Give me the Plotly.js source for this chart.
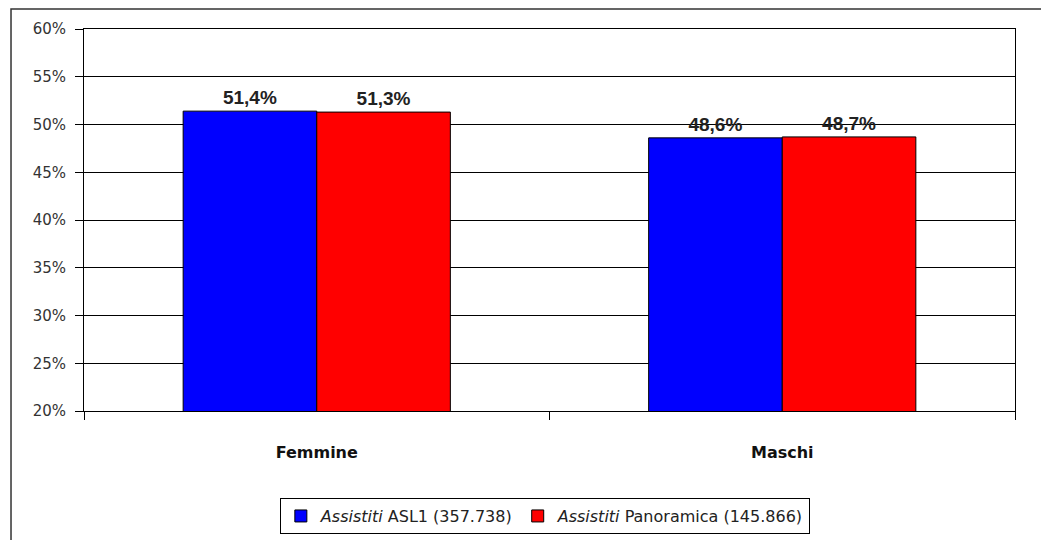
<!DOCTYPE html>
<html>
<head>
<meta charset="utf-8">
<script src="https://cdn.plot.ly/plotly-3.0.1.min.js"></script>
<style>html,body{margin:0;padding:0;background:#fff;}#chart{width:1041px;height:540px;}</style>
</head>
<body>
<div id="chart"></div>
<script>
var categories = ['Femmine', 'Maschi'];
var seriesNames = ['<i>Assistiti</i> ASL1 (357.738)', '<i>Assistiti</i> Panoramica (145.866)'];
var asl1Values = [51.4, 48.6];
var panoramicaValues = [51.3, 48.7];
var yTickVals = [20, 25, 30, 35, 40, 45, 50, 55, 60];
var yTickText = ['20%', '25%', '30%', '35%', '40%', '45%', '50%', '55%', '60%'];

var labelFont = {family: 'Liberation Sans Narrow, Arial Narrow, Liberation Sans, Arial, sans-serif', size: 19, color: '#222'};

function fmt(v) { return '<b>' + v.toFixed(1).replace('.', ',') + '%</b>'; }

var traces = [
  {type: 'bar', name: seriesNames[0], x: categories, y: asl1Values,
   marker: {color: '#0000ff', line: {color: '#000', width: 1}},
   text: asl1Values.map(fmt),
   textposition: 'outside', textfont: labelFont, cliponaxis: false, hoverinfo: 'none'},
  {type: 'bar', name: seriesNames[1], x: categories, y: panoramicaValues,
   marker: {color: '#ff0000', line: {color: '#000', width: 1}},
   text: panoramicaValues.map(fmt),
   textposition: 'outside', textfont: labelFont, cliponaxis: false, hoverinfo: 'none'}
];

var layout = {
  width: 1041, height: 540,
  margin: {l: 84, r: 26, t: 29, b: 129, autoexpand: false},
  paper_bgcolor: '#fff', plot_bgcolor: '#fff',
  barmode: 'group', bargap: 0.426, bargroupgap: 0,
  showlegend: true,
  legend: {orientation: 'h', x: 0.495, xanchor: 'center', y: -0.275, yanchor: 'middle',
           bordercolor: '#000', borderwidth: 1, bgcolor: '#fff',
           font: {family: 'DejaVu Sans, sans-serif', size: 16, color: '#222'},
           itemwidth: 30, traceorder: 'normal'},
  xaxis: {type: 'category', showline: true, linecolor: '#000', linewidth: 1, mirror: true,
          ticks: 'outside', tickson: 'boundaries', ticklen: 8, tickcolor: '#000',
          showgrid: false, ticklabelstandoff: 27, automargin: false,
          tickfont: {family: 'DejaVu Sans, sans-serif', size: 16, color: '#111', weight: 'bold'}},
  yaxis: {range: [20, 60], tickmode: 'array', tickvals: yTickVals, ticktext: yTickText,
          showline: true, linecolor: '#000', linewidth: 1, mirror: true, automargin: false,
          ticks: 'outside', ticklen: 8, tickcolor: '#000', ticklabelstandoff: 6,
          showgrid: true, gridcolor: '#000', gridwidth: 1, zeroline: false,
          tickfont: {family: 'DejaVu Sans, sans-serif', size: 15, color: '#333'}},
  shapes: [{type: 'rect', xref: 'paper', yref: 'paper', x0: -0.0784, x1: 1.05, y0: -0.4, y1: 1.0524,
            line: {color: '#333', width: 1.5}, fillcolor: 'rgba(0,0,0,0)', layer: 'below'}],
  font: {family: 'DejaVu Sans, sans-serif'}
};

Plotly.newPlot('chart', traces, layout, {displayModeBar: false, staticPlot: true});
</script>
</body>
</html>
